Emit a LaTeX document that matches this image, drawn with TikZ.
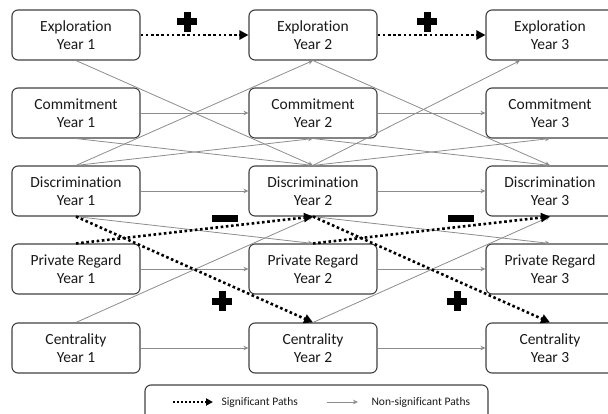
\documentclass[tikz,border=0pt]{standalone}
\usepackage{fontspec}
\setmainfont{Carlito}[Ligatures=NoCommon]
\usetikzlibrary{arrows.meta}

\begin{document}
\begin{tikzpicture}[x=1pt,y=-1pt,
	sig/.style = {black, line width=2.6pt, dash pattern=on 2.6pt off 2.6pt, -{Triangle[length=9pt,width=9pt]}},
	nonsig/.style = {black!45, line width=0.8pt, -{Stealth[length=5pt,width=4.5pt]}},
	plussign/.style = {minimum size=20pt, inner sep=0pt, path picture={
		\fill[black] ([xshift=-3.5pt]path picture bounding box.north) rectangle ([xshift=3.5pt]path picture bounding box.south);
		\fill[black] ([yshift=3.5pt]path picture bounding box.west) rectangle ([yshift=-3.5pt]path picture bounding box.east);}},
	minussign/.style = {fill=black, minimum width=26pt, minimum height=7pt, inner sep=0pt}]
				\useasboundingbox (0,0) rectangle (608,414);
				\begin{scope}[every node/.style={draw=black!75,line width=1.1pt,rounded corners=6pt,minimum width=128pt,minimum height=50pt,align=center,text=black!90,font=\fontsize{15.5}{18.5}\selectfont}]
					\node (expl1) at (76,35) {Exploration\\Year 1};
					\node (comm1) at (76,113) {Commitment\\Year 1};
					\node (disc1) at (76,191) {Discrimination\\Year 1};
					\node (priv1) at (76,269) {Private Regard\\Year 1};
					\node (cent1) at (76,348) {Centrality\\Year 1};
					\node (expl2) at (313,35) {Exploration\\Year 2};
					\node (comm2) at (313,113) {Commitment\\Year 2};
					\node (disc2) at (313,191) {Discrimination\\Year 2};
					\node (priv2) at (313,269) {Private Regard\\Year 2};
					\node (cent2) at (313,348) {Centrality\\Year 2};
					\node (expl3) at (550,35) {Exploration\\Year 3};
					\node (comm3) at (550,113) {Commitment\\Year 3};
					\node (disc3) at (550,191) {Discrimination\\Year 3};
					\node (priv3) at (550,269) {Private Regard\\Year 3};
					\node (cent3) at (550,348) {Centrality\\Year 3};
				\end{scope}
				% non-significant paths
				\draw [nonsig] (comm1) -- (comm2);
				\draw [nonsig] (disc1) -- (disc2);
				\draw [nonsig] (priv1) -- (priv2);
				\draw [nonsig] (cent1) -- (cent2);
				\draw [nonsig] (comm2) -- (comm3);
				\draw [nonsig] (disc2) -- (disc3);
				\draw [nonsig] (priv2) -- (priv3);
				\draw [nonsig] (cent2) -- (cent3);
				\draw [nonsig] (expl1.south) -- (disc2.north);
				\draw [nonsig] (disc1.north) -- (expl2.south);
				\draw [nonsig] (comm1.south) -- (disc2.north);
				\draw [nonsig] (disc1.north) -- (comm2.south);
				\draw [nonsig] (disc1.south) -- (priv2.north);
				\draw [nonsig] (cent1.north) -- (disc2.south);
				\draw [nonsig] (expl2.south) -- (disc3.north);
				\draw [nonsig] (disc2.north) -- ([xshift=-30pt]expl3.south);
				\draw [nonsig] (comm2.south) -- (disc3.north);
				\draw [nonsig] (disc2.north) -- (comm3.south);
				\draw [nonsig] (disc2.south) -- (priv3.north);
				\draw [nonsig] (cent2.north) -- (disc3.south);
				% significant paths
				\draw [sig] (expl1) -- (expl2);
				\draw [sig] (expl2) -- (expl3);
				\draw [sig] (disc1.south) -- (cent2.north);
				\draw [sig] (priv1.north) -- (disc2.south);
				\draw [sig] (disc2.south) -- (cent3.north);
				\draw [sig] (priv2.north) -- (disc3.south);
				% signs
				\node[plussign] (plusA) at (187,22) {};
				\node[plussign] (plusB) at (427,22) {};
				\node[plussign] (plusC) at (222,301) {};
				\node[plussign] (plusD) at (457,301) {};
				\node[minussign] (minusA) at (225,218.5) {};
				\node[minussign] (minusB) at (461,218.5) {};
				% legend
				\node[draw=black!75,line width=1.1pt,rounded corners=6pt,minimum width=343pt,minimum height=38pt] (legend) at (316.5,404) {};
				\coordinate (sigA) at (173,402);
				\coordinate (sigB) at (213,402);
				\coordinate (nonA) at (327,402);
				\coordinate (nonB) at (358,402);
				\draw [sig,line width=2pt,dash pattern=on 2pt off 2pt,-{Triangle[length=7pt,width=7pt]}] (sigA) -- (sigB);
				\draw [nonsig] (nonA) -- (nonB);
				\node[anchor=west,font=\fontsize{11.5}{13}\selectfont,text=black!90] (sigtxt) at (218,402) {Significant Paths};
				\node[anchor=west,font=\fontsize{11.5}{13}\selectfont,text=black!90] (nontxt) at (368,402) {Non-significant Paths};
			\end{tikzpicture}
\end{document}
